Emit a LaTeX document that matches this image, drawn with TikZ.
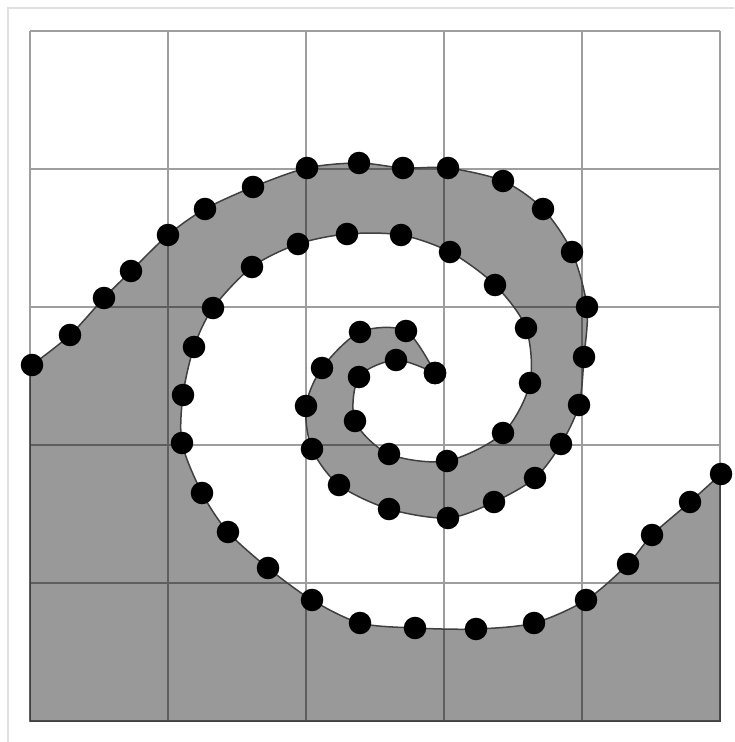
\documentclass[tikz,border=0pt]{standalone}
\usepackage{tikz}

\begin{document}
\begin{tikzpicture}[
  x=0.1mm, y=-0.1mm,
  frameline/.style={draw=black!12, line width=0.2mm},
  gridline/.style={draw=black!38, line width=0.2mm},
  band/.style={fill=black, fill opacity=0.4, draw=black!75, line width=0.15mm},
  dotmark/.style={mark=*, mark size=1.05mm, mark options={fill=black, draw=black, fill opacity=1}}
]
\useasboundingbox (0,0) rectangle (734,742);
\draw[frameline] (8,742) |- (734,8);

% 5x5 grid
\foreach \i in {0,...,5} {
  \draw[gridline] ({30+138*\i},31) -- ({30+138*\i},721);
  \draw[gridline] (30,{31+138*\i}) -- (720,{31+138*\i});
}

% grey band: lower edge in to the tip, then upper edge back out
\path[band] (30,366) -- (30,721) -- (720,721) -- (720,474)
  -- plot[smooth, dotmark] coordinates {
    (721,474) (690,502) (652,535) (628,564) (586,600) (534,623) (476,629)
    (415,628) (360,623) (312,600) (268,568) (228,532) (202,493) (182,443)
    (183,395) (194,347) (213,308) (252,267) (298,244) (347,234) (401,235)
    (450,252) (495,285) (526,328) (530,383) (503,433) (447,461) (389,454)
    (355,421) (359,377) (396,360) (435,373)}
  -- plot[smooth, dotmark] coordinates {
    (435,373) (406,331) (360,332) (322,368) (306,406) (312,449) (339,485)
    (389,509) (448,518) (494,502) (535,478) (561,444) (579,405) (584,357)
    (587,307) (572,252) (543,209) (503,181) (448,168) (403,168) (359,163)
    (307,168) (253,187) (205,209) (168,235) (131,271) (104,298) (70,335)
    (32,365)}
  -- cycle;
\end{tikzpicture}
\end{document}
